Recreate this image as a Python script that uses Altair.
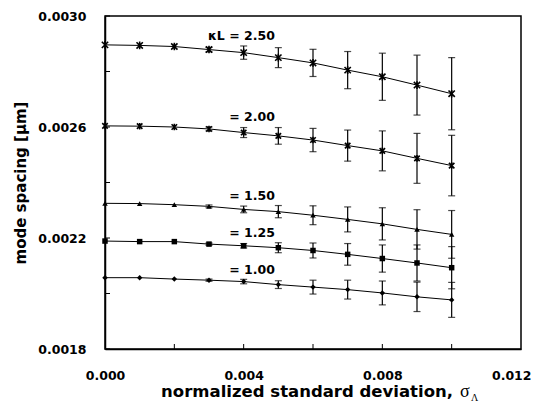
import altair as alt
import pandas as pd

sigma = [0.000, 0.001, 0.002, 0.003, 0.004, 0.005, 0.006, 0.007, 0.008, 0.009, 0.010]

ms_250 = [0.002896, 0.002894, 0.002890, 0.002879, 0.002868, 0.002850, 0.002831, 0.002805, 0.002781, 0.002751, 0.002720]
err_250 = [0, 0, 0, 0.000008, 0.000024, 0.000036, 0.000049, 0.000067, 0.000085, 0.000108, 0.000130]
ms_200 = [0.002604, 0.002603, 0.002600, 0.002593, 0.002580, 0.002568, 0.002553, 0.002533, 0.002514, 0.002487, 0.002461]
err_200 = [0, 0, 0, 0.000007, 0.000018, 0.000030, 0.000042, 0.000056, 0.000072, 0.000090, 0.000109]
ms_150 = [0.002325, 0.002324, 0.002320, 0.002314, 0.002303, 0.002295, 0.002282, 0.002267, 0.002251, 0.002231, 0.002213]
err_150 = [0, 0, 0, 0.000005, 0.000012, 0.000022, 0.000034, 0.000045, 0.000058, 0.000071, 0.000086]
ms_125 = [0.002189, 0.002187, 0.002187, 0.002178, 0.002172, 0.002165, 0.002155, 0.002141, 0.002126, 0.002110, 0.002093]
err_125 = [0, 0, 0, 0.000004, 0.000008, 0.000018, 0.000027, 0.000039, 0.000049, 0.000065, 0.000076]
ms_100 = [0.002057, 0.002057, 0.002052, 0.002048, 0.002043, 0.002032, 0.002023, 0.002014, 0.002002, 0.001988, 0.001977]
err_100 = [0, 0, 0, 0.000004, 0.000008, 0.000014, 0.000025, 0.000034, 0.000043, 0.000053, 0.000063]

series_names = ["2.50", "2.00", "1.50", "1.25", "1.00"]
label_texts = ["κL = 2.50", "= 2.00", "= 1.50", "= 1.25", "= 1.00"]
label_y = [0.002928, 0.002636, 0.002352, 0.002217, 0.002085]
label_x = 0.0049

y_minor_ticks = [0.0018, 0.0020, 0.0022, 0.0024, 0.0026, 0.0028, 0.0030]
x_minor_ticks = [0.002, 0.004, 0.006, 0.008, 0.010]

x_title = "normalized standard deviation,"
x_title_sym = "σ"
x_title_sub = "Λ"
y_title = "mode spacing [μm]"

ASTER = "M-1,-1L1,1M1,-1L-1,1M0,-1.2L0,1.2"
shapes = [ASTER, ASTER, "triangle-up", "square", "diamond"]
sizes = [40, 30, 30, 30, 30]

FONT = "DejaVu Sans"
W, H = 416, 333

xs = alt.Scale(domain=[0, 0.012], nice=False, zero=False)
ys = alt.Scale(domain=[0.0018, 0.0030], nice=False, zero=False)

all_series = [ms_250, ms_200, ms_150, ms_125, ms_100]
all_err = [err_250, err_200, err_150, err_125, err_100]

rows = []
for name, vals, errs in zip(series_names, all_series, all_err):
    for s, v, e in zip(sigma, vals, errs):
        rows.append({"series": name, "sigma": s, "ms": v, "lo": v - e, "hi": v + e, "err": e})
df = pd.DataFrame(rows)

xenc = alt.X("sigma:Q", scale=xs, axis=alt.Axis(
    values=[0, 0.004, 0.008, 0.012], format=".3f", title=None, labelFlush=False,
    labelAlign={"expr": "datum.value > 0.011 ? 'right' : 'center'"},
    labelOffset={"expr": "datum.value > 0.011 ? 10 : 0"},
    tickSize=0, labelPadding=20, grid=False,
    labelFont=FONT, labelFontSize=12.5, labelFontWeight="bold", labelColor="black",
    domainColor="black", domainWidth=1.5))
yenc = alt.Y("ms:Q", scale=ys, axis=alt.Axis(
    values=[0.0018, 0.0022, 0.0026, 0.0030], format=".4f", title=y_title,
    tickSize=0, labelPadding=19, titlePadding=9, grid=False, labelFlush=False,
    labelFont=FONT, labelFontSize=12.5, labelFontWeight="bold", labelColor="black",
    titleFont=FONT, titleFontSize=15, titleFontWeight="bold", titleColor="black",
    domainColor="black", domainWidth=1.5))

base = alt.Chart(df)

lines = base.mark_line(color="black", strokeWidth=1).encode(
    x=xenc, y=yenc, detail="series:N")

errdf = df[df["err"] > 0]
ebase = alt.Chart(errdf)
err_rules = ebase.mark_rule(color="black", strokeWidth=1.2).encode(
    x=alt.X("sigma:Q", scale=xs), y=alt.Y("lo:Q", scale=ys), y2="hi:Q")
cap_lo = ebase.mark_tick(color="black", orient="horizontal", size=7, thickness=1.2).encode(
    x=alt.X("sigma:Q", scale=xs), y=alt.Y("lo:Q", scale=ys))
cap_hi = ebase.mark_tick(color="black", orient="horizontal", size=7, thickness=1.2).encode(
    x=alt.X("sigma:Q", scale=xs), y=alt.Y("hi:Q", scale=ys))

point_layers = []
for name, shp, sz in zip(series_names, shapes, sizes):
    sub = df[df["series"] == name]
    if shp != ASTER:
        m = alt.Chart(sub).mark_point(shape=shp, size=sz, filled=True, color="black", opacity=1)
    else:
        m = alt.Chart(sub).mark_point(shape=shp, size=sz, filled=False, color="black",
                                      strokeWidth=1.6, opacity=1)
    point_layers.append(m.encode(x=alt.X("sigma:Q", scale=xs), y=alt.Y("ms:Q", scale=ys)))

lab_df = pd.DataFrame({"t": label_texts, "y": label_y, "x": [label_x] * len(label_texts)})
labels = alt.Chart(lab_df).mark_text(align="right", baseline="middle", font=FONT,
                                      fontSize=12.5, fontWeight="bold", color="black").encode(
    x=alt.X("x:Q", scale=xs), y=alt.Y("y:Q", scale=ys), text="t:N")

yt_df = pd.DataFrame({"v": y_minor_ticks})
yticks = alt.Chart(yt_df).mark_rule(color="black", strokeWidth=1).encode(
    y=alt.Y("v:Q", scale=ys), x=alt.value(0), x2=alt.value(5))
xt_df = pd.DataFrame({"v": x_minor_ticks})
xticks = alt.Chart(xt_df).mark_rule(color="black", strokeWidth=1).encode(
    x=alt.X("v:Q", scale=xs), y=alt.value(H), y2=alt.value(H - 5))

t1 = alt.Chart(pd.DataFrame({"t": [x_title]})).mark_text(
    align="right", baseline="alphabetic", font=FONT, fontSize=16.5, fontWeight="bold",
    color="black").encode(text="t:N", x=alt.value(348), y=alt.value(381))
t2 = alt.Chart(pd.DataFrame({"t": [x_title_sym]})).mark_text(
    align="left", baseline="alphabetic", font="Liberation Serif", fontSize=18,
    color="black").encode(text="t:N", x=alt.value(355), y=alt.value(381))
t3 = alt.Chart(pd.DataFrame({"t": [x_title_sub]})).mark_text(
    align="left", baseline="alphabetic", font="Liberation Serif", fontSize=10,
    color="black").encode(text="t:N", x=alt.value(366), y=alt.value(385))

chart = alt.layer(lines, err_rules, cap_lo, cap_hi, *point_layers, labels, yticks, xticks,
                  t1, t2, t3).properties(
    width=W, height=H,
    autosize=alt.AutoSizeParams(type="none"),
    padding={"left": 97, "top": 8, "right": 11, "bottom": 61},
    background="white",
).configure_view(stroke="black", strokeWidth=1.5)

chart.save("out.html", embed_options={"renderer": "svg", "actions": False})
